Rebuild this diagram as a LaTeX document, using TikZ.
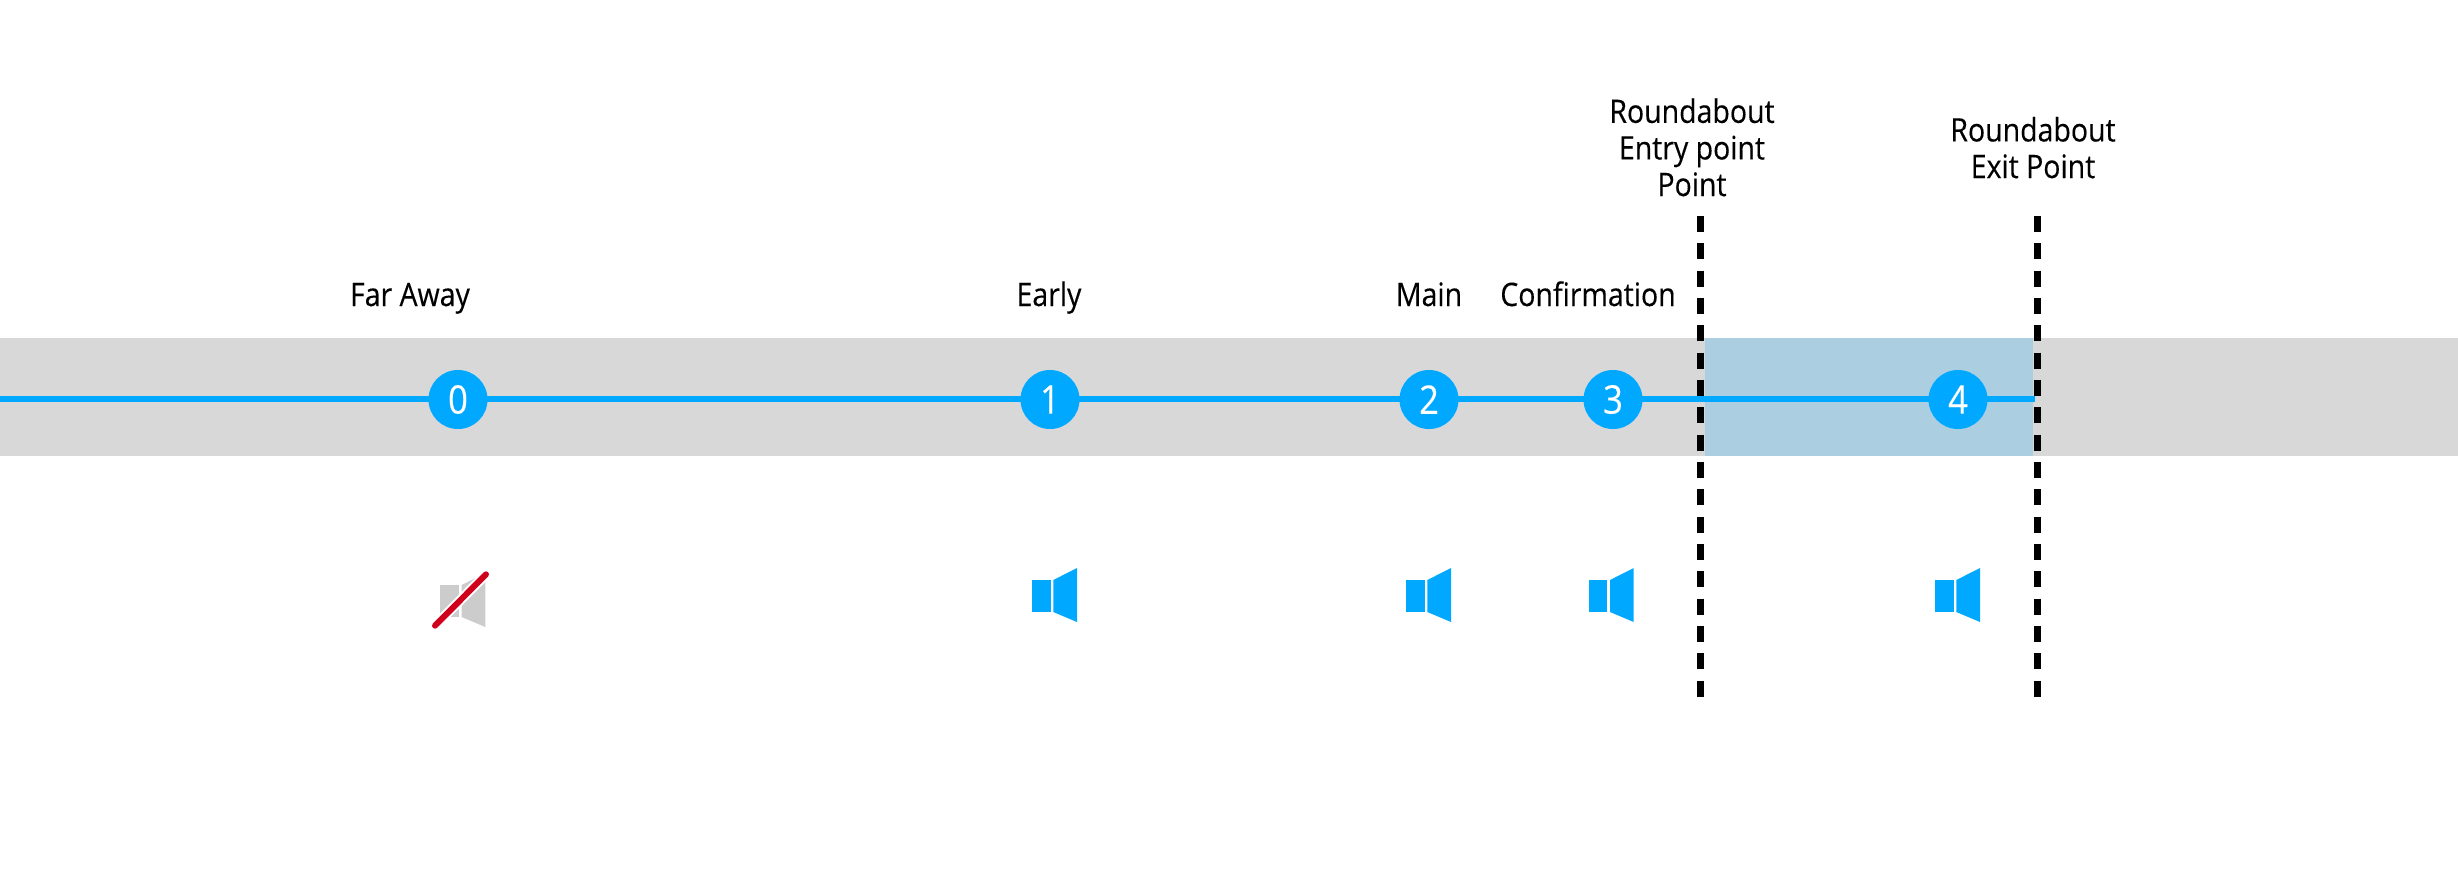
\documentclass[tikz,border=0pt]{standalone}
\usepackage{fontspec}
\setmainfont[FakeStretch=0.88, FakeBold=0.25]{Open Sans}
\tikzset{
  stage/.style={circle, fill=wayblue, text=white, minimum size=59*0.2845pt, inner sep=0pt, font=\fontsize{11.2pt}{12pt}\selectfont},
  caption/.style={anchor=base, align=center, inner sep=0pt, font=\fontsize{9.2pt}{10.4pt}\selectfont},
  boundary/.style={line width=2pt, dash pattern=on 4.55pt off 3.22pt},
  routeline/.style={wayblue, line width=1.6pt}
}
\definecolor{wayblue}{HTML}{00A9FF}
\definecolor{bandgray}{HTML}{D8D8D8}
\definecolor{zoneblue}{HTML}{ACCEE1}
\definecolor{mutegray}{HTML}{CCCCCC}
\definecolor{mutered}{HTML}{D0021B}
\newcommand{\speaker}[3]{%
  \fill[#3] (#1, #2) rectangle ++(18.6, 32);
  \fill[#3] (#1+21.3, #2) -- ++(23.7, -12) -- ++(0, 54) -- ++(-23.7, -10) -- cycle;
}
\begin{document}
\begin{tikzpicture}[x=0.01cm, y=-0.01cm]

    \useasboundingbox (0, 0) rectangle (2458, 878);

    \coordinate (LS) at (0, 399);
    \coordinate (LE) at (2035, 399);

    \coordinate (ENU) at (1700, 216);
    \coordinate (END) at (1700, 697);
    \coordinate (EXU) at (2037, 216);
    \coordinate (EXD) at (2037, 697);

    \fill[bandgray] (0, 338) rectangle (2458, 456);
    \fill[zoneblue] (1705, 338) rectangle (2033, 456);

    \draw[boundary] (ENU) -- (END);
    \draw[boundary] (EXU) -- (EXD);

    \draw[routeline] (LS) -- (LE);

    \node[stage] (S0) at (458, 399.5) {0};
    \node[stage] (S1) at (1050, 399.5) {1};
    \node[stage] (S2) at (1429, 399.5) {2};
    \node[stage] (S3) at (1613, 399.5) {3};
    \node[stage] (S4) at (1958, 399.5) {4};

    \node[caption] (FA) at (410, 306) {Far Away};
    \node[caption] (EA) at (1049, 306) {Early};
    \node[caption] (MA) at (1429, 306) {Main};
    \node[caption] (CO) at (1588, 306) {Confirmation};
    \node[caption] (EN) at (1692, 196) {Roundabout\\Entry point\\Point};
    \node[caption] (EX) at (2033, 178) {Roundabout\\Exit Point};

    \speaker{1032}{580}{wayblue}
    \speaker{1406}{580}{wayblue}
    \speaker{1588.7}{580}{wayblue}
    \speaker{1935}{580}{wayblue}

    \speaker{440.3}{585}{mutegray}
    \draw[white, line width=2.8pt] (435, 625.7) -- (486, 574.3);
    \draw[mutered, line width=1.7pt, line cap=round] (435, 625.7) -- (486, 574.3);

  \end{tikzpicture}
\end{document}
